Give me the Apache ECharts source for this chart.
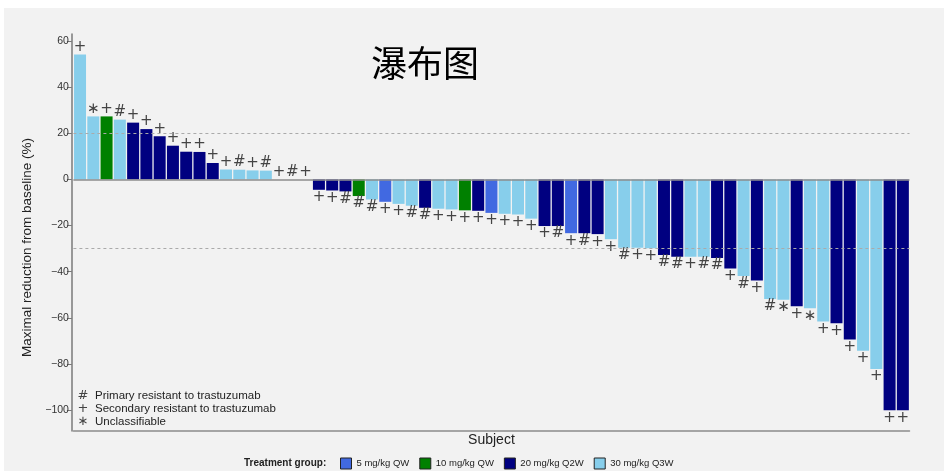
<!DOCTYPE html>
<html>
<head>
<meta charset="utf-8">
<title>瀑布图</title>
<script src="https://cdn.jsdelivr.net/npm/echarts@6/dist/echarts.min.js"></script>
<style>
  html, body { margin: 0; padding: 0; background: #ffffff; }
  #chart { width: 944px; height: 471px; }
</style>
</head>
<body>
<div id="chart"></div>
<script>
// Subjects, ordered by best response (largest increase first)
const subjects = [
  1, 2, 3, 4, 5, 6, 7, 8, 9, 10, 11, 12, 13, 14, 15, 16, 17, 18, 19, 20, 21,
  22, 23, 24, 25, 26, 27, 28, 29, 30, 31, 32, 33, 34, 35, 36, 37, 38, 39, 40, 41, 42,
  43, 44, 45, 46, 47, 48, 49, 50, 51, 52, 53, 54, 55, 56, 57, 58, 59, 60, 61, 62, 63
];

// Maximal change from baseline (%) per subject
const reduction = [
  54.1, 27.3, 27.3, 25.9, 24.6, 21.8, 18.7, 14.6, 12.0, 11.9, 7.1, 4.3, 4.2, 3.9, 3.8,
  0, 0, 0,
  -4.5, -4.8, -5.2, -7.2, -8.7, -9.7, -10.6, -11.4, -12.3, -12.7, -13.0, -13.4, -13.6,
  -14.5, -14.9, -15.2, -17.0,
  -20.2, -20.2, -23.3, -23.3, -23.7, -25.9, -29.6, -29.6, -29.8, -32.7, -33.5, -33.5,
  -33.5, -34.0, -38.6, -41.9, -43.8, -51.8, -52.1, -55.0, -55.8, -61.6, -62.3, -69.4,
  -74.2, -82.1, -100, -100
];

// Treatment group of each subject (index into groupNames)
const groupOf = [
  3, 3, 1, 3, 2, 2, 2, 2, 2, 2, 2, 3, 3, 3, 3,
  3, 3, 3,
  2, 2, 2, 1, 3, 0, 3, 3, 2, 3, 3, 1, 2, 0, 3, 3, 3,
  2, 2, 0, 2, 2, 3, 3, 3, 3, 2, 2, 3, 3, 2, 2, 3, 2, 3, 3, 2, 3, 3, 2, 2, 3, 3, 2, 2
];

// Trastuzumab resistance status of each subject
const resistance = [
  '+', '*', '+', '#', '+', '+', '+', '+', '+', '+', '+', '+', '#', '+', '#',
  '+', '#', '+',
  '+', '+', '#', '#', '#', '+', '+', '#', '#', '+', '+', '+', '+', '+', '+', '+', '+',
  '+', '#', '+', '#', '+', '+', '#', '+', '+', '#', '#', '+', '#', '#', '+', '#', '+',
  '#', '*', '+', '*', '+', '+', '+', '+', '+', '+', '+'
];

const groupNames = ['5 mg/kg QW', '10 mg/kg QW', '20 mg/kg Q2W', '30 mg/kg Q3W'];
const groupColors = ['#4169e1', '#008000', '#000080', '#87ceeb'];

const yTicks = [60, 40, 20, 0, -20, -40, -60, -80, -100];
const thresholds = [20, -30];

const resistanceKey = [
  ['#', 'Primary resistant to trastuzumab'],
  ['+', 'Secondary resistant to trastuzumab'],
  ['*', 'Unclassifiable']
];

const symbolGlyph = { '#': '#', '+': '+', '*': '\u2217' };

const latin = '"Liberation Sans", Arial, sans-serif';
const markerFont = '"DejaVu Sans", "Liberation Sans", sans-serif';

const chart = echarts.init(document.getElementById('chart'), null, { renderer: 'canvas' });

const series = groupNames.map((name, g) => ({
  type: 'bar',
  name: name,
  stack: 'response',
  barWidth: 12,
  itemStyle: { color: groupColors[g] },
  label: {
    show: true,
    distance: 0,
    color: '#444',
    fontSize: 15,
    fontFamily: markerFont,
    formatter: p => symbolGlyph[resistance[p.dataIndex]]
  },
  data: reduction.map((v, i) => groupOf[i] === g
    ? { value: v, label: { position: v >= 0 ? 'top' : 'bottom' } }
    : null),
  markLine: g === 0 ? {
    silent: true,
    symbol: 'none',
    label: { show: false },
    data: [
      ...thresholds.map(t => ({ yAxis: t, lineStyle: { color: '#aaaaaa', type: [3, 3], width: 1 } })),
      { yAxis: 0, lineStyle: { color: '#8c8c8c', type: 'solid', width: 1.5 } }
    ]
  } : undefined
}));

const keyGraphics = [];
resistanceKey.forEach(([sym, text], k) => {
  keyGraphics.push({
    type: 'text', x: 83, y: 396 + k * 12.7,
    style: {
      text: symbolGlyph[sym], fill: '#444', font: '13px ' + markerFont,
      align: 'center', verticalAlign: 'middle'
    }
  });
  keyGraphics.push({
    type: 'text', x: 95, y: 396 + k * 12.7,
    style: {
      text: text, fill: '#222', font: '11.5px ' + latin,
      align: 'left', verticalAlign: 'middle'
    }
  });
});

chart.setOption({
  backgroundColor: '#f2f2f2',
  animation: false,
  textStyle: { fontFamily: latin },
  title: [
    {
      text: '瀑布图',
      left: 366, top: 40,
      textStyle: { fontFamily: '"Noto Sans CJK SC", sans-serif', fontSize: 36, fontWeight: 'normal', color: '#000' }
    },
    {
      text: 'Treatment group:',
      left: 244, top: 457, padding: 0,
      textStyle: { fontFamily: latin, fontSize: 10, fontWeight: 'bold', color: '#222', lineHeight: 12 }
    }
  ],
  legend: {
    data: groupNames,
    left: 340, top: 457.5, padding: 0,
    icon: 'rect',
    itemWidth: 11, itemHeight: 11, itemGap: 10,
    itemStyle: { borderColor: '#222', borderWidth: 1 },
    textStyle: { fontFamily: latin, fontSize: 9.5, color: '#222' },
    selectedMode: false
  },
  grid: { left: 73.4, right: 34.5, top: 34, bottom: 40 },
  xAxis: {
    type: 'category',
    data: subjects,
    name: 'Subject',
    nameLocation: 'middle',
    nameGap: 2,
    nameTextStyle: { fontSize: 14, color: '#222', fontFamily: latin, verticalAlign: 'top' },
    axisLine: { show: true, onZero: false, lineStyle: { color: '#8c8c8c', width: 1.5 } },
    axisTick: { show: false },
    axisLabel: { show: false },
    splitLine: { show: false }
  },
  yAxis: {
    type: 'value',
    min: -109, max: 63,
    offset: 1.5,
    name: 'Maximal reduction from baseline (%)',
    nameLocation: 'middle',
    nameGap: 37,
    nameTextStyle: { fontSize: 13.5, color: '#222', fontFamily: latin, padding: [0, 30, 0, 0] },
    axisLine: { show: true, lineStyle: { color: '#7a7a7a', width: 1.5 } },
    axisTick: { show: true, length: 5, customValues: yTicks, lineStyle: { color: '#7a7a7a' } },
    axisLabel: {
      customValues: yTicks, fontSize: 10.5, color: '#333', margin: 3, fontFamily: latin,
      formatter: v => String(v).replace('-', '\u2212')
    },
    splitLine: { show: false }
  },
  graphic: [
    { type: 'rect', left: 0, top: 0, shape: { width: 944, height: 8 }, style: { fill: '#ffffff' }, silent: true },
    { type: 'rect', left: 0, top: 0, shape: { width: 4, height: 471 }, style: { fill: '#ffffff' }, silent: true },
    ...keyGraphics
  ],
  series: series
});
</script>
</body>
</html>
